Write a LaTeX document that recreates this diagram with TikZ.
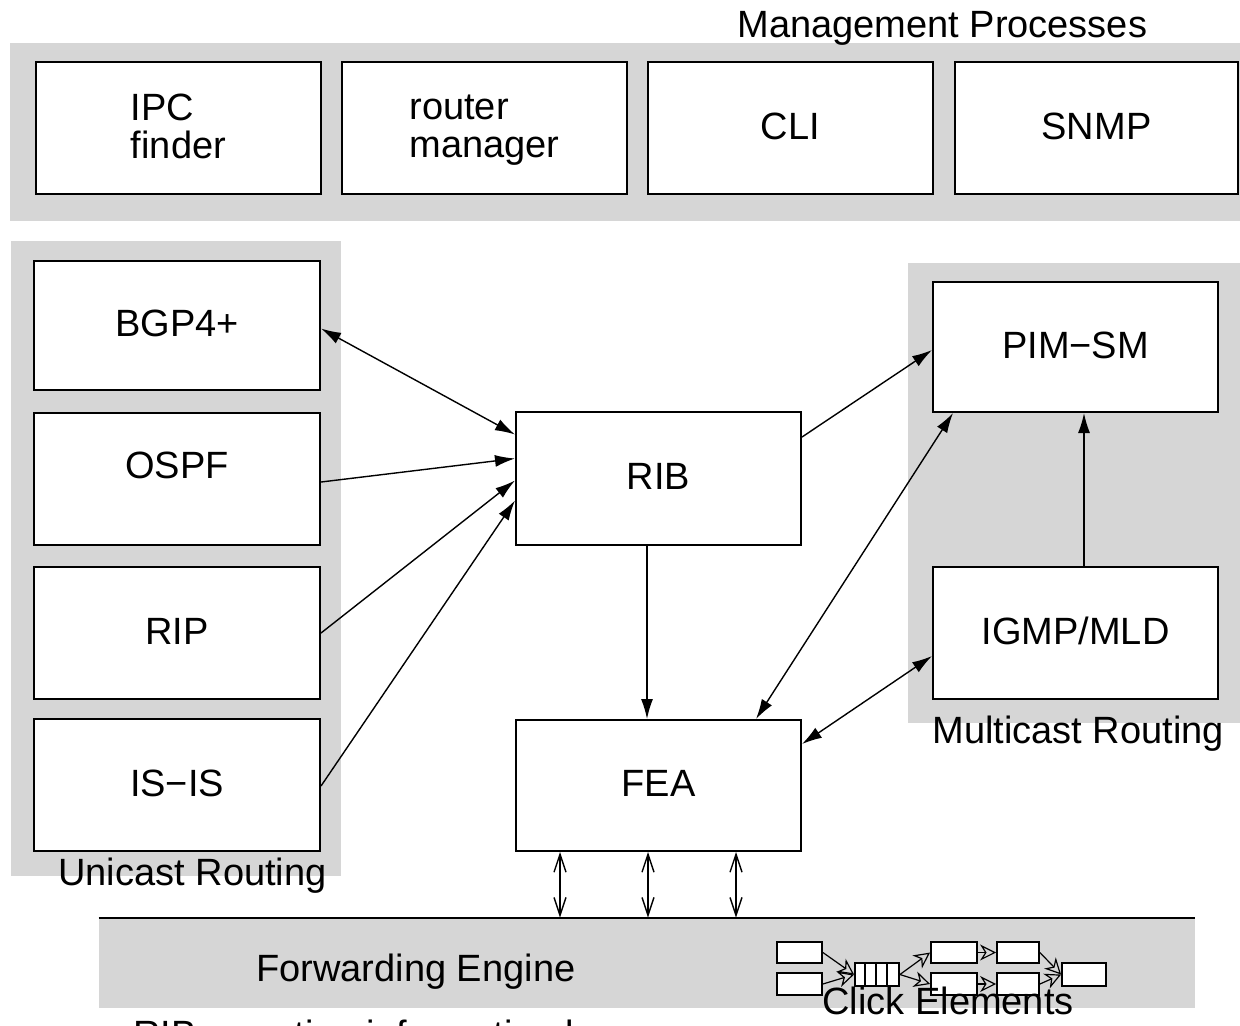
\documentclass[tikz,border=0pt]{standalone}
\usepackage{fontspec}
\setmainfont{Liberation Sans}
\usetikzlibrary{arrows.meta}
\definecolor{bandgray}{RGB}{214,214,214}
\begin{document}
\begin{tikzpicture}[x=0.5pt,y=-0.5pt,
  lbl/.style={font=\fontsize{19}{19}\selectfont,inner sep=0pt,text depth=0pt},
  box/.style={lbl,draw,line width=1pt,fill=white,minimum width=142.5pt,minimum height=66pt,text depth=2pt},
  conn/.style={line width=0.7pt},
  onetip/.style={conn,-{Latex[length=10pt,width=6pt]}},
  twotip/.style={conn,{Latex[length=10pt,width=6pt]}-{Latex[length=10pt,width=6pt]}},
  barbs/.style={line width=0.7pt,{Straight Barb[length=9pt,width=6pt]}-{Straight Barb[length=9pt,width=6pt]}},
  cbox/.style={draw,line width=0.9pt,fill=white,inner sep=0pt},
  carrow/.style={line width=0.6pt,-{Stealth[open,length=8pt,width=8pt,inset=2.5pt]}},
  band/.style={fill=bandgray}
]
\useasboundingbox (0,0) rectangle (1240,1025);
\clip (0,0) rectangle (1240,1025);
\fill[white] (0,0) rectangle (1240,1025);

% group bands
\fill[band] (10,43) rectangle (1250,221);
\fill[band] (11,241) rectangle (341,876);
\fill[band] (908,263) rectangle (1250,723);
\node[band,inner sep=0pt,minimum width=548pt,minimum height=45pt] (fe) at (647,963) {};
\draw[line width=1pt] (fe.north west) -- (fe.north east);

% management processes
\node[lbl,anchor=base west] (mgmt) at (737,37) {Management Processes};
\node[box,align=left] (ipc) at (178.5,128) {IPC\\finder};
\node[box,align=left] (rm) at (484.5,128) {router\\manager};
\node[box] (cli) at (790.5,128) {CLI};
\node[box,minimum width=141.5pt] (snmp) at (1096.5,128) {SNMP};

% unicast routing
\node[box,minimum width=143pt,minimum height=64.5pt] (bgp) at (177,325.5) {BGP4+};
\node[box,minimum width=143pt] (ospf) at (177,479) {};
\node[lbl] (ospft) at (177,465) {OSPF};
\node[box,minimum width=143pt] (rip) at (177,633) {RIP};
\node[box,minimum width=143pt] (isis) at (177,785) {IS−IS};
\node[lbl,anchor=base west] (uni) at (58,885) {Unicast Routing};

% core
\node[box,minimum height=66.5pt] (rib) at (658.5,478.5) {RIB};
\node[box,minimum height=65.5pt] (fea) at (658.5,785.5) {FEA};

% multicast routing
\node[box,minimum height=65pt] (pim) at (1075.5,347) {PIM−SM};
\node[box] (igmp) at (1075.5,633) {IGMP/MLD};
\node[lbl,anchor=base west] (multi) at (932,743) {Multicast Routing};

% connectors
\draw[twotip] ([yshift=-1.5pt]bgp.east) -- ([yshift=22pt]rib.west);
\draw[onetip] ([yshift=-1.5pt]ospf.east) -- ([yshift=10pt]rib.west);
\draw[onetip] (rip.east) -- ([yshift=-1pt]rib.west);
\draw[onetip] ([yshift=-0.5pt]isis.east) -- ([yshift=-11pt]rib.west);
\draw[onetip] ([yshift=20.75pt]rib.east) -- ([yshift=-1.5pt]pim.west);
\draw[onetip] ([xshift=-5.75pt]rib.south) -- ([xshift=-5.75pt]fea.north);
\draw[twotip] ([xshift=-61.25pt]pim.south) -- ([xshift=48.75pt]fea.north);
\draw[twotip] ([yshift=-11.5pt]igmp.west) -- ([yshift=20.75pt]fea.east);
\draw[onetip] ([xshift=4.25pt]igmp.north) -- ([xshift=4.25pt]pim.south);

\draw[barbs] ([xshift=-49.25pt]fea.south) -- ([xshift=-43.5pt]fe.north);
\draw[barbs] ([xshift=-5.25pt]fea.south) -- ([xshift=0.5pt]fe.north);
\draw[barbs] ([xshift=38.75pt]fea.south) -- ([xshift=44.5pt]fe.north);

% forwarding engine
\node[lbl,anchor=base west] (fet) at (256,981) {Forwarding Engine};

% click elements
\node[cbox,minimum width=22.5pt,minimum height=10.5pt] (c1) at (799.5,952.5) {};
\node[cbox,minimum width=22.5pt,minimum height=11pt] (c2) at (799.5,984) {};
\node[cbox,minimum width=22pt,minimum height=11.5pt] (q) at (877,974.5) {};
\foreach \i in {1,2,3} \draw[line width=0.9pt] ([xshift=\i*5.5pt]q.north west) -- ([xshift=\i*5.5pt]q.south west);
\node[cbox,minimum width=23pt,minimum height=10.5pt] (c3) at (954,952.5) {};
\node[cbox,minimum width=23pt,minimum height=11pt] (c4) at (954,984) {};
\node[cbox,minimum width=21pt,minimum height=10.5pt] (c5) at (1018,952.5) {};
\node[cbox,minimum width=21pt,minimum height=11pt] (c6) at (1018,984) {};
\node[cbox,minimum width=22pt,minimum height=11.5pt] (c7) at (1084,974.5) {};
\draw[carrow] (c1.east) -- (q.west);
\draw[carrow] (c2.east) -- (q.west);
\draw[carrow] (q.east) -- (c3.west);
\draw[carrow] (q.east) -- (c4.west);
\draw[carrow] (c3.east) -- (c5.west);
\draw[carrow] (c4.east) -- (c6.west);
\draw[carrow] (c5.east) -- (c7.west);
\draw[carrow] (c6.east) -- (c7.west);
\node[lbl,anchor=base west] (click) at (822,1014) {Click Elements};

% footnote (cut off at the bottom edge, as in the reference)
\node[lbl,anchor=base west] (foot) at (133,1047) {RIB = routing information base};
\end{tikzpicture}
\end{document}
